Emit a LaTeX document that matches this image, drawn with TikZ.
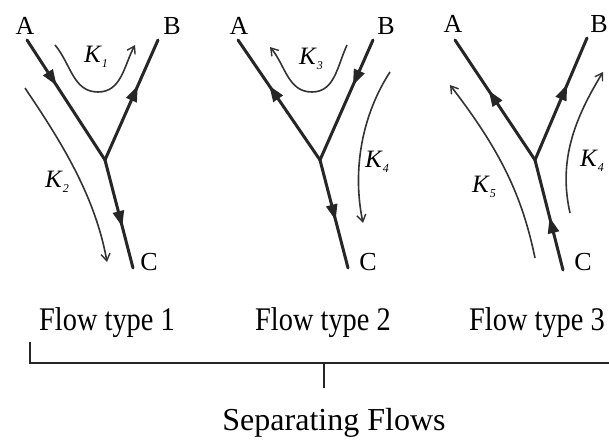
\documentclass[tikz,border=0pt]{standalone}
\usepackage{fontspec}
\setmainfont{Liberation Serif}
\newfontfamily\condfont{Liberation Serif}[FakeStretch=0.86]
\usetikzlibrary{arrows.meta,decorations.markings}
\newcommand{\kl}[1]{\textit{K}\raisebox{-5pt}{\fontsize{12}{12}\selectfont\itshape #1}}
\tikzset{
  mainline/.style={line width=3pt, draw=black!85, line cap=round},
  midarrow/.style={postaction={decorate},
    decoration={markings, mark=at position #1 with {\arrow{Triangle[length=16pt,width=11pt]}}}},
  flowline/.style={line width=1.6pt, draw=black!80,
    -{Straight Barb[length=7pt,width=9pt,line width=1.4pt]}},
  ptlabel/.style={font=\fontsize{26}{26}\selectfont, inner sep=0pt, anchor=base},
  klabel/.style={font=\fontsize{25}{25}\selectfont, inner sep=0pt, anchor=base west},
  typelabel/.style={font=\condfont\fontsize{33}{33}\selectfont, inner sep=0pt, anchor=base},
  captionlabel/.style={font=\fontsize{32}{32}\selectfont, inner sep=0pt, anchor=base},
  bracket/.style={line width=2.5pt, draw=black!85}
}
\begin{document}
\begin{tikzpicture}[x=1pt,y=-1pt]
\useasboundingbox (0,0) rectangle (609,443);
\fill[white] (0,0) rectangle (609,443);

% ---------- panel 1 ----------
\coordinate (A1) at (27,40);
\coordinate (B1) at (158,40);
\coordinate (J1) at (105,160);
\coordinate (C1) at (133,268);
\node[ptlabel] (lA1) at (25,35) {A};
\node[ptlabel] (lB1) at (172,35) {B};
\node[ptlabel] (lC1) at (149,270) {C};
\draw[mainline, midarrow=0.38] (A1) -- (J1);
\draw[mainline, midarrow=0.62] (J1) -- (B1);
\draw[mainline, midarrow=0.62] (J1) -- (C1);
\coordinate (k1s) at (55,45);
\coordinate (k1m) at (98,92);
\coordinate (k1e) at (135,45);
\draw[flowline] (k1s) to[out=-50,in=180] (k1m) to[out=0,in=-118] (k1e);
\node[klabel] (K1) at (84,63) {\kl{1}};
\coordinate (k2s) at (25,88);
\coordinate (k2e) at (107,262);
\draw[flowline] (k2s) .. controls (60,140) and (95,195) .. (k2e);
\node[klabel] (K2) at (45,188) {\kl{2}};

% ---------- panel 2 ----------
\coordinate (A2) at (238,40);
\coordinate (B2) at (373,40);
\coordinate (J2) at (320,160);
\coordinate (C2) at (348,268);
\node[ptlabel] (lA2) at (239,35) {A};
\node[ptlabel] (lB2) at (386,35) {B};
\node[ptlabel] (lC2) at (368,270) {C};
\draw[mainline, midarrow=0.62] (J2) -- (A2);
\draw[mainline, midarrow=0.38] (B2) -- (J2);
\draw[mainline, midarrow=0.56] (J2) -- (C2);
\coordinate (k3s) at (347,45);
\coordinate (k3m) at (312,92);
\coordinate (k3e) at (270,47);
\draw[flowline] (k3s) to[out=-115,in=0] (k3m) to[out=180,in=-50] (k3e);
\node[klabel] (K3) at (299,65) {\kl{3}};
\coordinate (k4s) at (390,72);
\coordinate (k4e) at (363,223);
\draw[flowline] (k4s) .. controls (362,115) and (352,170) .. (k4e);
\node[klabel] (K4a) at (365,168) {\kl{4}};

% ---------- panel 3 ----------
\coordinate (A3) at (455,40);
\coordinate (B3) at (587,38);
\coordinate (J3) at (535,160);
\coordinate (C3) at (563,270);
\node[ptlabel] (lA3) at (453,33) {A};
\node[ptlabel] (lB3) at (599,33) {B};
\node[ptlabel] (lC3) at (583,270) {C};
\draw[mainline, midarrow=0.58] (J3) -- (A3);
\draw[mainline, midarrow=0.62] (J3) -- (B3);
\draw[mainline, midarrow=0.48] (C3) -- (J3);
\coordinate (k5s) at (535,258);
\coordinate (k5e) at (450,85);
\draw[flowline] (k5s) .. controls (522,195) and (500,150) .. (k5e);
\node[klabel] (K5) at (472,193) {\kl{5}};
\coordinate (k6s) at (570,213);
\coordinate (k6e) at (603,72);
\draw[flowline] (k6s) .. controls (558,160) and (575,118) .. (k6e);
\node[klabel] (K4b) at (580,167) {\kl{4}};

% ---------- captions ----------
\node[typelabel] (t1) at (107,330) {Flow type 1};
\node[typelabel] (t2) at (323,330) {Flow type 2};
\node[typelabel] (t3) at (537,330) {Flow type 3};
\coordinate (bl) at (30,342);
\coordinate (bc) at (30,363);
\coordinate (br) at (609,363);
\coordinate (tm) at (324,363);
\coordinate (tb) at (324,388);
\draw[bracket] (bl) -- (bc) -- (br);
\draw[bracket] (tm) -- (tb);
\node[captionlabel] (sep) at (334,430) {Separating Flows};
\end{tikzpicture}
\end{document}
